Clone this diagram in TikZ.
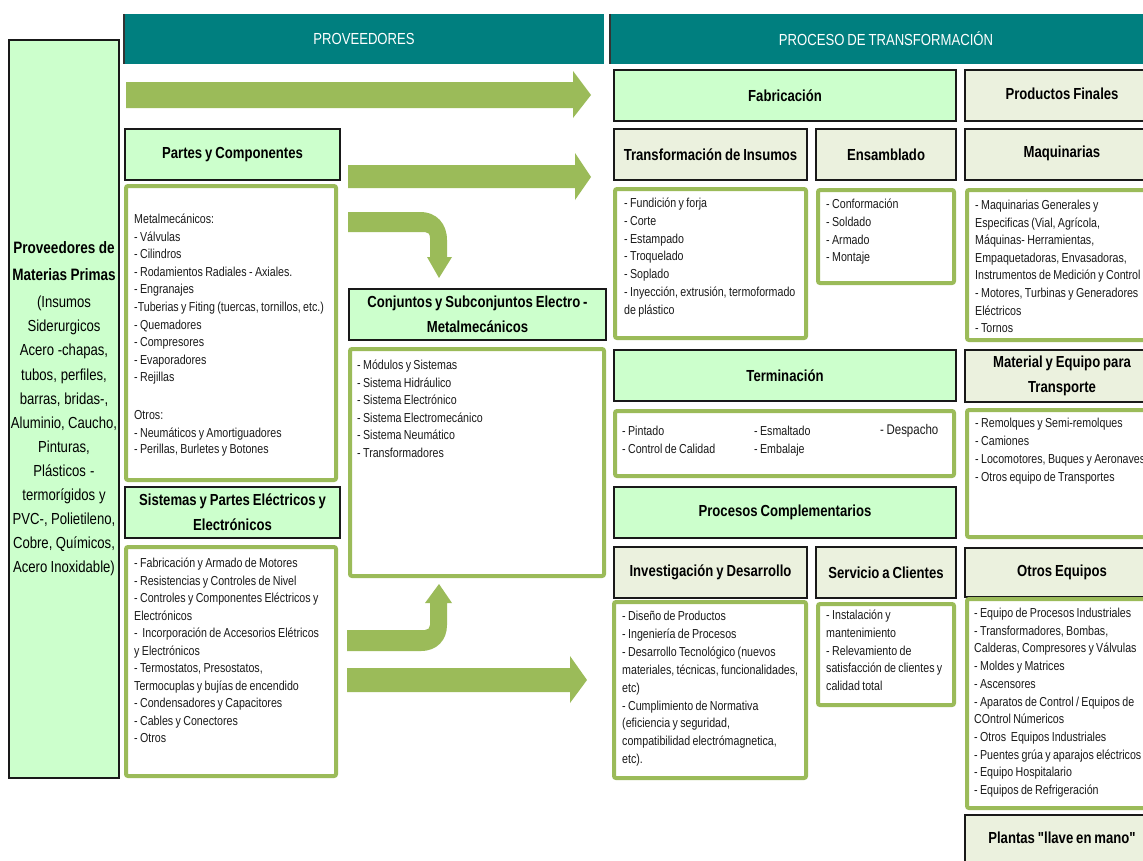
\documentclass[tikz,border=0pt]{standalone}
\usepackage{fontspec}
\setmainfont{Liberation Sans}[FakeStretch=0.82,WordSpace=0.8]
\newfontfamily\qfont{Liberation Sans}[FakeStretch=0.82,WordSpace=0.8,Ligatures=ResetAll]
\definecolor{tealh}{HTML}{007F7F}
\definecolor{lgreen}{HTML}{CCFFCC}
\definecolor{paleg}{HTML}{EBF1DE}
\definecolor{oliveg}{HTML}{9BBB59}
\definecolor{bodyt}{HTML}{1A1A1A}
\newcommand\bx[7]{\node[#2, minimum width=#5pt-#3pt, minimum height=#6pt-#4pt] (#1) at ({(#3+#5)/2},{(#4+#6)/2}) {#7};}
\tikzset{
  every node/.style={execute at begin node={\spaceskip=0pt\xspaceskip=0pt\relax}},
  hdr/.style={draw=black!90, line width=1.6pt, fill=lgreen, align=center, inner sep=0pt,
    font=\fontsize{16}{25}\selectfont\bfseries, text=black},
  phdr/.style={hdr, fill=paleg},
  tealbar/.style={fill=tealh, inner sep=0pt, text=white, font=\fontsize{16}{18}\selectfont},
  gbox/.style={draw=oliveg, line width=4pt, fill=white, rounded corners=2pt, inner sep=0pt},
  txt/.style={anchor=base west, inner sep=0pt, align=left, text width=260pt, text=bodyt,
    font=\fontsize{13}{17.6}\selectfont},
  bigarrow/.style={fill=oliveg, draw=none},
}
\begin{document}
\begin{tikzpicture}[x=1pt,y=-1pt]
\useasboundingbox (0,0) rectangle (1143,860);
\fill[white] (0,0) rectangle (1143,860);
\clip (0,0) rectangle (1143,860);

% left column
\bx{lbox}{hdr, line width=1.5pt}{9}{40}{119}{778}{}
\node[anchor=base, inner sep=0pt, align=center, text width=120pt, font=\fontsize{16}{24.1}\selectfont, text=black] (ltext) at (64,253.7)
 {{\fontsize{16.5}{24.1}\selectfont\bfseries Proveedores de}\\[2.9pt]
  {\fontsize{16.5}{24.1}\selectfont\bfseries Materias Primas}\\[2.9pt]
  (Insumos\\
  Siderurgicos\\
  Acero -chapas,\\
  tubos, perfiles,\\
  barras, bridas-,\\
  Aluminio, Caucho,\\
  Pinturas,\\
  Plásticos -\\
  termorígidos y\\
  PVC-, Polietileno,\\
  Cobre, Químicos,\\
  Acero Inoxidable)};

% teal headers
\bx{tprov}{tealbar}{124}{14}{604}{64}{PROVEEDORES}
\draw[black!80, line width=1.5pt] (tprov.north west) -- (tprov.south west);
\bx{tproc}{tealbar}{610}{14}{1143}{64}{}
\node[text=white, font=\fontsize{16}{18}\selectfont, inner sep=0pt] (tproct) at (886,39) {PROCESO DE TRANSFORMACIÓN};
\draw[black!80, line width=1.5pt] (tproc.north west) -- (tproc.south west);

% arrows
\fill[bigarrow] (126,82) -- (573,82) -- (573,71) -- (591,95) -- (573,118) -- (573,108) -- (126,108) -- cycle;
\fill[bigarrow] (348,165) -- (575,165) -- (575,153) -- (591,177) -- (575,200) -- (575,188) -- (348,188) -- cycle;
\fill[bigarrow] (347,668) -- (570,668) -- (570,656) -- (587,680) -- (570,703) -- (570,692) -- (347,692) -- cycle;
\fill[bigarrow] (348,212) -- (420,212) .. controls (437,212) and (447,224) .. (447,240) -- (447,257) -- (452,257) -- (439,278) -- (427,257) -- (430,257) -- (430,238) .. controls (430,234) and (428,232) .. (425,232) -- (348,232) -- cycle;
\fill[bigarrow] (347,630) -- (425,630) .. controls (428,630) and (430,628) .. (430,625) -- (430,603) -- (425,603) -- (439,584) -- (452,603) -- (447,603) -- (447,625) .. controls (447,640) and (437,651) .. (421,651) -- (347,651) -- cycle;

% PROVEEDORES column
\bx{hpartes}{hdr}{125}{129}{340}{180}{Partes y Componentes}
\bx{bpartes}{gbox}{126}{186}{336}{480}{}
\node[txt] (tpartes) at (134,223.5) {Metalmecánicos:\\
- Válvulas\\
- Cilindros\\
- Rodamientos Radiales - Axiales.\\
- Engranajes\\
-Tuberias y Fiting (tuercas, tornillos, etc.)\\
- Quemadores\\
- Compresores\\
- Evaporadores\\
- Rejillas\\[20.4pt]
Otros:\\
- Neumáticos y Amortiguadores\\[-2pt]
- Perillas, Burletes y Botones};

\bx{hsist}{hdr}{125}{487}{340}{538}{Sistemas y Partes Eléctricos y\\Electrónicos}
\bx{bsist}{gbox}{126}{547}{336}{776}{}
\node[txt, font=\fontsize{13}{17.5}\selectfont] (tsist) at (134,567.5) {- Fabricación y Armado de Motores\\
- Resistencias y Controles de Nivel\\
- Controles y Componentes Eléctricos y\\
Electrónicos\\
-\ \ Incorporación de Accesorios Elétricos\\
y Electrónicos\\
- Termostatos, Presostatos,\\
Termocuplas y bujías de encendido\\
- Condensadores y Capacitores\\
- Cables y Conectores\\
- Otros};

\bx{hconj}{hdr}{349}{289}{606}{340}{Conjuntos y Subconjuntos Electro -\\Metalmecánicos}
\bx{bconj}{gbox}{350}{349}{604}{576}{}
\node[txt] (tconj) at (357,369.5) {- Módulos y Sistemas\\
- Sistema Hidráulico\\
- Sistema Electrónico\\
- Sistema Electromecánico\\
- Sistema Neumático\\
- Transformadores};

% PROCESO column
\bx{hfab}{hdr}{614}{70}{956}{121}{Fabricación}
\bx{hprod}{phdr}{965}{70}{1165}{121}{}
\node[font=\fontsize{16}{25}\selectfont\bfseries, inner sep=0pt] (tprod) at (1062,94) {Productos Finales};

\bx{htrans}{phdr}{614}{129}{807}{180}{Transformación de Insumos}
\bx{hens}{phdr}{816}{129}{956}{180}{Ensamblado}
\bx{hmaq}{phdr}{965}{129}{1165}{180}{}
\node[font=\fontsize{16}{25}\selectfont\bfseries, inner sep=0pt] (tmaqh) at (1062,153) {Maquinarias};

\bx{btrans}{gbox}{615}{189}{806}{338}{}
\node[txt, font=\fontsize{13}{17.8}\selectfont] (ttrans) at (624,207.5) {- Fundición y forja\\
- Corte\\
- Estampado\\
- Troquelado\\
- Soplado\\
- Inyección, extrusión, termoformado\\
de plástico};
\bx{bens}{gbox}{818}{190}{954}{283}{}
\node[txt, font=\fontsize{13}{17.8}\selectfont] (tens) at (826,208.5) {- Conformación\\
- Soldado\\
- Armado\\
- Montaje};
\bx{bmaq}{gbox}{967}{190}{1165}{340}{}
\node[txt] (tmaq) at (975,209.5) {- Maquinarias Generales y\\
Especificas (Vial, Agrícola,\\
Máquinas- Herramientas,\\
Empaquetadoras, Envasadoras,\\
Instrumentos de Medición y Control\\
- Motores, Turbinas y Generadores\\
Eléctricos\\
- Tornos};

\bx{hterm}{hdr}{614}{350}{956}{401}{Terminación}
\bx{hmat}{phdr}{965}{350}{1165}{402}{}
\node[font=\fontsize{16}{25}\selectfont\bfseries, inner sep=0pt, align=center] (tmath) at (1062,376) {Material y Equipo para\\Transporte};
\bx{bterm}{gbox}{615}{411}{954}{476}{}
\node[txt] (tterm1) at (622,435.5) {- Pintado\\- Control de Calidad};
\node[txt] (tterm2) at (754,435.5) {- Esmaltado\\- Embalaje};
\node[txt, font=\fontsize{14}{17.6}\selectfont] (tterm3) at (880,434.5) {- Despacho};
\bx{bmat}{gbox}{967}{410}{1165}{537}{}
\node[txt, font=\fontsize{13}{18}\selectfont] (tmat) at (975,427.5) {- Remolques y Semi-remolques\\
- Camiones\\
- Locomotores, Buques y Aeronaves\\
- Otros equipo de Transportes};

\bx{hcomp}{hdr}{614}{487}{956}{538}{Procesos Complementarios}
\bx{hinv}{phdr}{614}{547}{807}{598}{Investigación y Desarrollo}
\bx{hserv}{phdr}{816}{547}{956}{598}{Servicio a Clientes}
\bx{hotr}{phdr}{965}{548}{1165}{597}{}
\node[font=\fontsize{16}{25}\selectfont\bfseries, inner sep=0pt] (totrh) at (1062,572) {Otros Equipos};

\bx{binv}{gbox}{614}{602}{806}{778}{}
\node[txt, font=\fontsize{13}{17.9}\selectfont] (tinv) at (622,620.5) {- Diseño de Productos\\
- Ingeniería de Procesos\\
- Desarrollo Tecnológico (nuevos\\
materiales, técnicas, funcionalidades,\\
etc)\\
- Cumplimiento de Normativa\\
(eficiencia y seguridad,\\
compatibilidad electrómagnetica,\\
etc).};
\bx{bserv}{gbox}{818}{604}{954}{705}{}
\node[txt, font=\fontsize{13}{17.8}\selectfont] (tserv) at (826,619.5) {- Instalación y\\
mantenimiento\\
- Relevamiento de\\
satisfacción de clientes y\\
calidad total};
\bx{botr}{gbox}{967}{599}{1165}{808}{}
\node[txt, font=\fontsize{13}{17.7}\selectfont] (totr) at (974,617.5) {- Equipo de Procesos Industriales\\
- Transformadores, Bombas,\\
Calderas, Compresores y Válvulas\\
- Moldes y Matrices\\
- Ascensores\\
- Aparatos de Control / Equipos de\\
COntrol Númericos\\
- Otros\ \ Equipos Industriales\\
- Puentes grúa y aparajos eléctricos\\
- Equipo Hospitalario\\
- Equipos de Refrigeración};

\bx{hplant}{phdr}{965}{815}{1165}{880}{}
\node[font=\qfont\fontsize{16}{25}\selectfont\bfseries, inner sep=0pt] (tplant) at (1062,838) {Plantas "llave en mano"};
\end{tikzpicture}
\end{document}
